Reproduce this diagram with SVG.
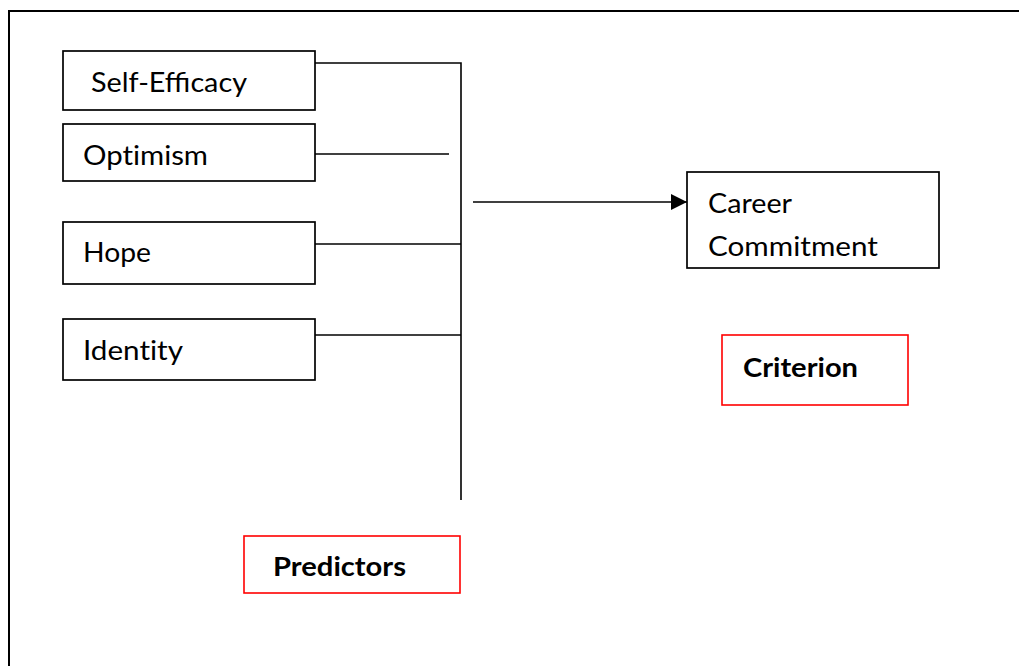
<svg xmlns="http://www.w3.org/2000/svg" width="1019" height="666" viewBox="0 0 1019 666">
<style>
  .box { fill: #ffffff; stroke: #000000; stroke-width: 1.7; }
  .lbl { fill: none; stroke: #ff0000; stroke-width: 1.6; }
  .t { font-family: Lato, "Open Sans", "Liberation Sans", sans-serif; font-size: 27px; fill: #000000; font-variant-ligatures: none; }
  .lig { font-variant-ligatures: normal; }
  .b { font-weight: bold; }
  .ln { fill: none; stroke: #000000; stroke-width: 1.6; }
</style>
<defs>
  <marker id="ah" viewBox="0 0 16 16" refX="16" refY="8" markerWidth="16" markerHeight="16" markerUnits="userSpaceOnUse" orient="auto">
    <path d="M0,0 L16,8 L0,16 Z" fill="#000000"/>
  </marker>
</defs>
<rect x="0" y="0" width="1019" height="666" fill="#ffffff"/>
<path d="M9,667 L9,11 L1020,11" fill="none" stroke="#000000" stroke-width="2"/>

<g id="connectors">
  <path class="ln" d="M315,63 L461,63 L461,500"/>
  <path class="ln" d="M315,154 L449,154"/>
  <path class="ln" d="M315,244 L461,244"/>
  <path class="ln" d="M315,335 L461,335"/>
  <path class="ln" d="M473,202 L687,202" marker-end="url(#ah)"/>
</g>

<g id="self-efficacy">
  <rect class="box" x="63" y="51" width="252" height="59"/>
  <text class="t lig" x="91" y="92" textLength="156" lengthAdjust="spacingAndGlyphs">Self-Efficacy</text>
</g>
<g id="optimism">
  <rect class="box" x="63" y="124" width="252" height="57"/>
  <text class="t" x="83" y="165" textLength="125" lengthAdjust="spacingAndGlyphs">Optimism</text>
</g>
<g id="hope">
  <rect class="box" x="63" y="222" width="252" height="62"/>
  <text class="t" x="83" y="262" textLength="68" lengthAdjust="spacingAndGlyphs">Hope</text>
</g>
<g id="identity">
  <rect class="box" x="63" y="319" width="252" height="61"/>
  <text class="t" x="83" y="360" textLength="100" lengthAdjust="spacingAndGlyphs">Identity</text>
</g>
<g id="career-commitment">
  <rect class="box" x="687" y="172" width="252" height="96"/>
  <text class="t" x="708" y="213" textLength="84" lengthAdjust="spacingAndGlyphs">Career</text>
  <text class="t" x="708" y="256" textLength="170" lengthAdjust="spacingAndGlyphs">Commitment</text>
</g>
<g id="criterion">
  <rect class="lbl" x="722" y="335" width="186" height="70"/>
  <text class="t b" x="743" y="377" textLength="115" lengthAdjust="spacingAndGlyphs">Criterion</text>
</g>
<g id="predictors">
  <rect class="lbl" x="244" y="536" width="216" height="57"/>
  <text class="t b" x="273" y="576" textLength="133" lengthAdjust="spacingAndGlyphs">Predictors</text>
</g>
</svg>
